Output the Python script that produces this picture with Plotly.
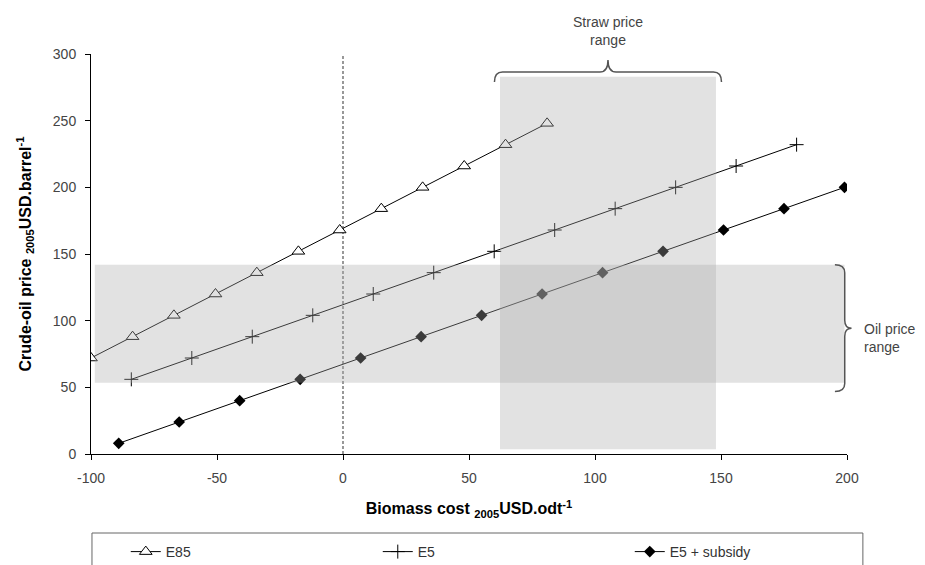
import plotly.graph_objects as go

# ---- data ----
e85_x = [-100, -83.5, -67.1, -50.6, -34.2, -17.7, -1.3, 15.2, 31.6, 48.1, 64.5, 81]
e85_y = [72, 88, 104, 120, 136, 152, 168, 184, 200, 216, 232, 248]
e5_x = [-84, -60, -36, -12, 12, 36, 60, 84, 108, 132, 156, 180]
e5_y = [56, 72, 88, 104, 120, 136, 152, 168, 184, 200, 216, 232]
sub_x = [-89, -65, -41, -17, 7, 31, 55, 79, 103, 127, 151, 175, 199]
sub_y = [8, 24, 40, 56, 72, 88, 104, 120, 136, 152, 168, 184, 200]
series_names = ["E85", "E5", "E5 + subsidy"]

oil_range = [53.5, 141.9]        # crude-oil price range (y)
oil_x_extent = [-98.5, 199]
straw_range = [62.3, 148]        # straw price range (x)
straw_y_extent = [3.5, 283]

x_ticks = [-100, -50, 0, 50, 100, 150, 200]
y_ticks = [0, 50, 100, 150, 200, 250, 300]

FONT = "Liberation Sans, Arial, sans-serif"

fig = go.Figure()
fig.add_trace(go.Scatter(
    x=e85_x, y=e85_y, name=series_names[0], mode="lines+markers",
    line=dict(color="black", width=1),
    marker=dict(symbol="triangle-up", size=11, color="white",
                line=dict(color="black", width=1))))
fig.add_trace(go.Scatter(
    x=e5_x, y=e5_y, name=series_names[1], mode="lines+markers",
    line=dict(color="black", width=1),
    marker=dict(symbol="cross-thin", size=10, color="black",
                line=dict(color="black", width=1))))
fig.add_trace(go.Scatter(
    x=sub_x, y=sub_y, name=series_names[2], mode="lines+markers",
    line=dict(color="black", width=1),
    marker=dict(symbol="diamond", size=9, color="black")))

shade = "rgba(171,171,171,0.345)"
shapes = [
    # zero line
    dict(type="line", xref="x", yref="y", x0=0, x1=0, y0=0, y1=300,
         line=dict(color="#555", width=1.2, dash="3px,2px"), layer="below"),
    # oil price range band
    dict(type="rect", xref="x", yref="y", x0=oil_x_extent[0], x1=oil_x_extent[1],
         y0=oil_range[0], y1=oil_range[1], fillcolor=shade, line=dict(width=0),
         layer="above"),
    # straw price range band
    dict(type="rect", xref="x", yref="y", x0=straw_range[0], x1=straw_range[1],
         y0=straw_y_extent[0], y1=straw_y_extent[1], fillcolor=shade,
         line=dict(width=0), layer="above"),
]

# horizontal curly brace (x data, y paper)
bx0, bx1 = 60.1, 150.2
bxm = (bx0 + bx1) / 2
yb, yc, yt = 0.93, 0.955, 0.985
r = 3.2
p = (f"M {bx0},{yb} Q {bx0},{yc} {bx0 + r},{yc} L {bxm - r},{yc} "
     f"Q {bxm},{yc} {bxm},{yt} Q {bxm},{yc} {bxm + r},{yc} "
     f"L {bx1 - r},{yc} Q {bx1},{yc} {bx1},{yb}")
shapes.append(dict(type="path", xref="x", yref="paper", path=p,
                   line=dict(color="#555", width=1.5)))

# vertical curly brace (x paper, y data)
xb, xc, xt = 0.984, 0.997, 1.006
vy0, vy1 = 46.8, 141.9
vym = (vy0 + vy1) / 2
rv = 6
p2 = (f"M {xb},{vy1} Q {xc},{vy1} {xc},{vy1 - rv} L {xc},{vym + rv} "
      f"Q {xc},{vym} {xt},{vym} Q {xc},{vym} {xc},{vym - rv} "
      f"L {xc},{vy0 + rv} Q {xc},{vy0} {xb},{vy0}")
shapes.append(dict(type="path", xref="paper", yref="y", path=p2,
                   line=dict(color="#555", width=1.5)))

# legend frame
shapes.append(dict(type="rect", xref="paper", yref="paper", x0=0.0013, x1=1.021,
                   y0=-0.1975, y1=-0.33, line=dict(color="#666", width=1),
                   fillcolor="rgba(0,0,0,0)"))

annotations = [
    dict(text="Straw price<br>range", xref="x", yref="paper", x=bxm, y=1.0575,
         xanchor="center", yanchor="middle", showarrow=False,
         font=dict(family=FONT, size=14, color="#444")),
    dict(text="Oil price<br>range", xref="paper", yref="y", x=1.02, y=86.7,
         xanchor="left", yanchor="middle", align="left", showarrow=False,
         font=dict(family=FONT, size=14, color="#444")),
]

fig.update_layout(
    width=917, height=557,
    margin=dict(l=83, r=78, t=46, b=111, autoexpand=False),
    plot_bgcolor="white", paper_bgcolor="white",
    font=dict(family=FONT, size=14, color="#444"),
    shapes=shapes, annotations=annotations,
    showlegend=True,
    legend=dict(orientation="h", x=0.046, xanchor="left", y=-0.245, yanchor="middle",
                entrywidth=207, entrywidthmode="pixels",
                font=dict(family=FONT, size=14, color="#333"),
                bgcolor="rgba(0,0,0,0)", borderwidth=0),
    xaxis=dict(range=[-100, 200], tickvals=x_ticks, ticktext=[str(v) for v in x_ticks],
               showgrid=False, zeroline=False, showline=True, linecolor="black",
               linewidth=1, ticks="outside", ticklen=5, tickcolor="black",
               ticklabelstandoff=6,
               tickfont=dict(family=FONT, size=14, color="#444"),
               title=dict(text="<b>Biomass cost <sub>2005</sub>USD.odt<sup>-1</sup></b>",
                          font=dict(family=FONT, size=16, color="black"), standoff=18)),
    yaxis=dict(range=[0, 300], tickvals=y_ticks, ticktext=[str(v) for v in y_ticks],
               showgrid=False, zeroline=False, showline=True, linecolor="black",
               linewidth=1, ticks="outside", ticklen=5, tickcolor="black",
               ticklabelstandoff=6,
               tickfont=dict(family=FONT, size=14, color="#444"),
               title=dict(text="<b>Crude-oil price <sub>2005</sub>USD.barrel<sup>-1</sup></b>",
                          font=dict(family=FONT, size=16, color="black"), standoff=17)),
)

fig.write_html("out.html")
